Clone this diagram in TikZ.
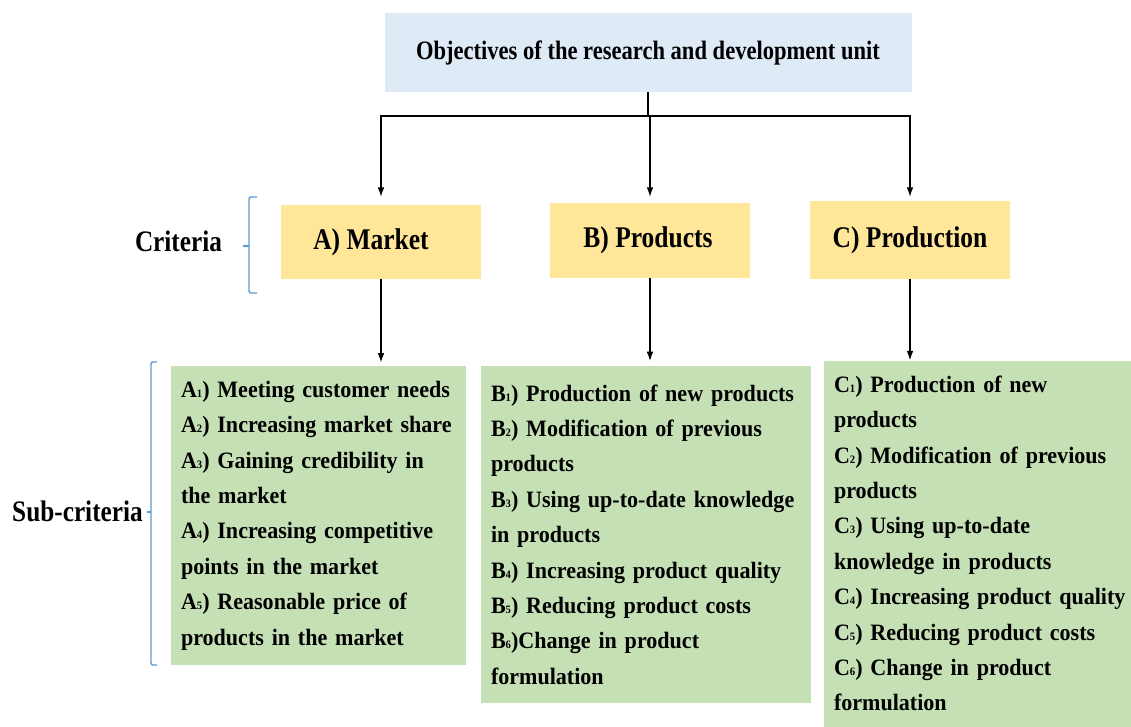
\documentclass[tikz,border=0pt]{standalone}
\usepackage{fontspec}
\setmainfont{Liberation Serif}[FakeStretch=0.85]
\newfontfamily\listfont{Liberation Serif}[FakeStretch=0.94, WordSpace=0.8]
\usetikzlibrary{arrows.meta}
\definecolor{topblue}{HTML}{DEEAF6}
\definecolor{crityellow}{HTML}{FFE699}
\definecolor{subgreen}{HTML}{C5E0B4}
\definecolor{braceblue}{HTML}{5B9BD5}
% small index digit after the criterion letter
\newcommand\idx[1]{{\fontsize{8.5}{8.5}\selectfont #1}}
% list lines are broken by hand: no hyphenation, long lines may run on
\newcommand\nohyph{\hyphenpenalty=10000 \exhyphenpenalty=10000 \hbadness=10000 \hfuzz=100pt }
\tikzset{
  topbox/.style={fill=topblue, inner sep=0pt, font=\bfseries\fontsize{19.9}{22}\selectfont},
  critbox/.style={fill=crityellow, inner sep=0pt, minimum width=150pt, font=\bfseries\fontsize{22.5}{24}\selectfont},
  subbox/.style={fill=subgreen, inner xsep=7.5pt, inner ysep=0pt, align=left, anchor=center,
    font=\listfont\bfseries\fontsize{17.6}{26.55}\selectfont\nohyph},
  sidelabel/.style={inner sep=0pt, font=\bfseries\fontsize{22.3}{24}\selectfont},
  link/.style={line width=0.9pt, black},
  linkarrow/.style={link, -{Latex[length=7pt,width=5pt]}},
  bracket/.style={braceblue, line width=1.1pt, rounded corners=1.5pt}
}
\begin{document}
\begin{tikzpicture}[x=0.75pt, y=-0.75pt]
\useasboundingbox (0,0) rectangle (1131,726);

% goal
\node[topbox, minimum width=395.25pt, minimum height=59.25pt] (goal) at (648,52.5)
  {Objectives of the research and development unit};

% criteria
\node[critbox, minimum height=55.5pt] (A) at (381,242) {A) Market\hspace*{15pt}};
\node[critbox, minimum height=56.25pt] (B) at (650,240.5) {B) Products\hspace*{3pt}};
\node[critbox, minimum height=58.5pt] (C) at (910,240) {C) Production};

% sub-criteria
\node[subbox, text width=206.25pt, minimum height=224.25pt] (SA) at (318.5,515.5)
  {A\idx{1}) Meeting customer needs\\
   A\idx{2}) Increasing market share\\
   A\idx{3}) Gaining credibility in\\
   the market\\
   A\idx{4}) Increasing competitive\\
   points in the market\\
   A\idx{5}) Reasonable price of\\
   products in the market};
\node[subbox, text width=232.5pt, minimum height=252.75pt] (SB) at (646,534.5)
  {B\idx{1}) Production of new products\\
   B\idx{2}) Modification of previous\\
   products\\
   B\idx{3}) Using up-to-date knowledge\\
   in products\\
   B\idx{4}) Increasing product quality\\
   B\idx{5}) Reducing product costs\\
   B\idx{6})Change in product\\
   formulation};
\node[subbox, text width=215.25pt, minimum height=274.5pt] (SC) at (977.5,543.5)
  {C\idx{1}) Production of new\\
   products\\
   C\idx{2}) Modification of previous\\
   products\\
   C\idx{3}) Using up-to-date\\
   knowledge in products\\
   C\idx{4})~Increasing~product~quality\\
   C\idx{5}) Reducing product costs\\
   C\idx{6}) Change in product\\
   formulation};

% level labels
\node[sidelabel] (critlabel) at (178.5,241) {Criteria};
\node[sidelabel] (sublabel) at (77.5,511) {Sub-criteria};

% connectors from the goal to the criteria
\coordinate (hub) at (648,116);
\draw[link] (goal.south) -- (hub);
\draw[linkarrow, shorten >=6pt] (hub) -| (A.north);
\draw[linkarrow, shorten >=4.5pt] (hub) -- (hub -| B.north) -- (B.north);
\draw[linkarrow, shorten >=3pt] (hub) -| (C.north);

% connectors from the criteria to their sub-criteria
\draw[linkarrow, shorten >=2.5pt] (A.south) -- (A.south |- SA.north);
\draw[linkarrow, shorten >=3.5pt] (B.south) -- (B.south |- SB.north);
\draw[linkarrow] (C.south) -- (C.south |- SC.north);

% brackets for the two levels
\draw[bracket] (257,197) -- (249,197) -- (249,293) -- (257,293);
\draw[bracket] (249,246) -- (243,246);
\draw[bracket] (157,362) -- (151,362) -- (151,665) -- (157,665);
\draw[bracket] (151,512) -- (147,512);
\end{tikzpicture}
\end{document}
